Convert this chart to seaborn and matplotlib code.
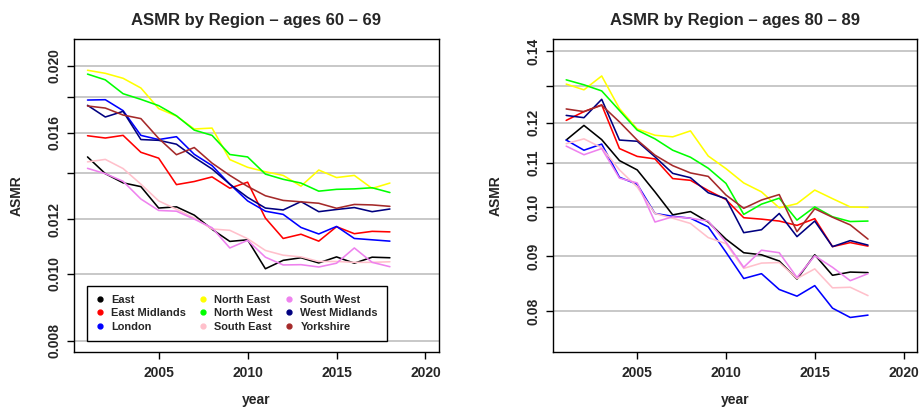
import numpy as np
import pandas as pd
import matplotlib
matplotlib.use("Agg")
import matplotlib.pyplot as plt
from matplotlib.lines import Line2D
from matplotlib.ticker import FixedLocator, FixedFormatter, NullLocator
import seaborn as sns

years = [2001, 2002, 2003, 2004, 2005, 2006, 2007, 2008, 2009,
         2010, 2011, 2012, 2013, 2014, 2015, 2016, 2017, 2018]

regions = ["East", "East Midlands", "London", "North East", "North West",
           "South East", "South West", "West Midlands", "Yorkshire"]
colors = ["black", "red", "blue", "yellow", "#00FF00",
          "pink", "violet", "navy", "brown"]

# ages 60 - 69
asmr_60_east = [0.01476, 0.01396, 0.01354, 0.01337, 0.01245, 0.01250, 0.01216, 0.01160, 0.01114,
                0.01120, 0.01017, 0.01046, 0.01055, 0.01037, 0.01058, 0.01036, 0.01057, 0.01055]
asmr_60_emid = [0.01584, 0.01572, 0.01586, 0.01499, 0.01470, 0.01346, 0.01360, 0.01381, 0.01330,
                0.01357, 0.01204, 0.01125, 0.01141, 0.01115, 0.01170, 0.01143, 0.01152, 0.01150]
asmr_60_lond = [0.01784, 0.01786, 0.01722, 0.01586, 0.01564, 0.01579, 0.01489, 0.01434, 0.01348,
                0.01275, 0.01232, 0.01219, 0.01167, 0.01142, 0.01171, 0.01125, 0.01120, 0.01115]
asmr_60_ne = [0.01970, 0.01950, 0.01918, 0.01857, 0.01734, 0.01691, 0.01620, 0.01625, 0.01463,
              0.01426, 0.01405, 0.01388, 0.01339, 0.01413, 0.01378, 0.01388, 0.01329, 0.01353]
asmr_60_nw = [0.01945, 0.01908, 0.01822, 0.01788, 0.01751, 0.01693, 0.01614, 0.01586, 0.01488,
              0.01476, 0.01394, 0.01370, 0.01353, 0.01317, 0.01325, 0.01327, 0.01332, 0.01311]
asmr_60_se = [0.01452, 0.01464, 0.01420, 0.01348, 0.01275, 0.01240, 0.01204, 0.01161, 0.01156,
              0.01124, 0.01081, 0.01064, 0.01058, 0.01042, 0.01042, 0.01039, 0.01039, 0.01041]
asmr_60_sw = [0.01421, 0.01396, 0.01361, 0.01283, 0.01235, 0.01232, 0.01200, 0.01166, 0.01090,
              0.01118, 0.01057, 0.01030, 0.01031, 0.01023, 0.01036, 0.01090, 0.01039, 0.01024]
asmr_60_wmid = [0.01753, 0.01686, 0.01718, 0.01564, 0.01560, 0.01540, 0.01474, 0.01418, 0.01348,
                0.01290, 0.01245, 0.01237, 0.01272, 0.01230, 0.01239, 0.01247, 0.01230, 0.01241]
asmr_60_york = [0.01749, 0.01737, 0.01697, 0.01677, 0.01570, 0.01487, 0.01523, 0.01446, 0.01388,
                0.01338, 0.01297, 0.01277, 0.01271, 0.01265, 0.01244, 0.01260, 0.01258, 0.01252]

# ages 80 - 89
asmr_80_east = [0.1156, 0.1193, 0.1157, 0.1106, 0.1084, 0.1034, 0.0984, 0.0991, 0.0969,
                0.0934, 0.0907, 0.0903, 0.0891, 0.0857, 0.0903, 0.0864, 0.0870, 0.0869]
asmr_80_emid = [0.1206, 0.1229, 0.1247, 0.1135, 0.1116, 0.1110, 0.1064, 0.1060, 0.1037,
                0.1017, 0.0978, 0.0975, 0.0971, 0.0962, 0.0976, 0.0919, 0.0927, 0.0920]
asmr_80_lond = [0.1156, 0.1131, 0.1146, 0.1067, 0.1051, 0.0987, 0.0981, 0.0977, 0.0959,
                0.0908, 0.0858, 0.0867, 0.0838, 0.0826, 0.0845, 0.0805, 0.0789, 0.0793]
asmr_80_ne = [0.1304, 0.1288, 0.1327, 0.1237, 0.1184, 0.1168, 0.1164, 0.1179, 0.1117,
              0.1087, 0.1054, 0.1034, 0.0999, 0.1008, 0.1038, 0.1019, 0.1001, 0.1000]
asmr_80_nw = [0.1316, 0.1302, 0.1285, 0.1232, 0.1181, 0.1159, 0.1131, 0.1114, 0.1088,
              0.1053, 0.0985, 0.1007, 0.1020, 0.0973, 0.1001, 0.0980, 0.0970, 0.0971]
asmr_80_se = [0.1147, 0.1159, 0.1137, 0.1084, 0.1045, 0.0987, 0.0977, 0.0966, 0.0937,
              0.0925, 0.0877, 0.0887, 0.0888, 0.0858, 0.0876, 0.0841, 0.0842, 0.0827]
asmr_80_sw = [0.1141, 0.1120, 0.1135, 0.1065, 0.1054, 0.0969, 0.0980, 0.0977, 0.0971,
              0.0928, 0.0879, 0.0912, 0.0907, 0.0860, 0.0901, 0.0879, 0.0854, 0.0867]
asmr_80_wmid = [0.1219, 0.1213, 0.1262, 0.1156, 0.1153, 0.1115, 0.1076, 0.1066, 0.1032,
                0.1019, 0.0947, 0.0953, 0.0987, 0.0939, 0.0971, 0.0919, 0.0931, 0.0922]
asmr_80_york = [0.1236, 0.1229, 0.1246, 0.1202, 0.1156, 0.1119, 0.1094, 0.1077, 0.1069,
                0.1027, 0.0998, 0.1016, 0.1028, 0.0949, 0.0997, 0.0979, 0.0963, 0.0934]

series_60 = [asmr_60_east, asmr_60_emid, asmr_60_lond, asmr_60_ne, asmr_60_nw,
             asmr_60_se, asmr_60_sw, asmr_60_wmid, asmr_60_york]
series_80 = [asmr_80_east, asmr_80_emid, asmr_80_lond, asmr_80_ne, asmr_80_nw,
             asmr_80_se, asmr_80_sw, asmr_80_wmid, asmr_80_york]

yticks_60 = [0.008, 0.010, 0.012, 0.014, 0.016, 0.018, 0.020]
ylabels_60 = ["0.008", "0.010", "0.012", "", "0.016", "", "0.020"]
yticks_80 = [0.08, 0.09, 0.10, 0.11, 0.12, 0.13, 0.14]
ylabels_80 = ["0.08", "0.09", "0.10", "0.11", "0.12", "", "0.14"]
xticks = [2005, 2010, 2015, 2020]


def long_df(series):
    rows = []
    for reg, vals in zip(regions, series):
        for y, v in zip(years, vals):
            rows.append((y, v, reg))
    return pd.DataFrame(rows, columns=["year", "ASMR", "region"])


sns.set_style("white")
plt.rcParams["font.family"] = ["Liberation Sans", "DejaVu Sans"]
plt.rcParams["font.weight"] = "bold"

fig = plt.figure(figsize=(9.2, 4.08), dpi=100)
ax1 = fig.add_axes([74 / 920, 1 - 352.3 / 408, 365 / 920, 313 / 408])
ax2 = fig.add_axes([552.7 / 920, 1 - 352.3 / 408, 364.3 / 920, 313 / 408])

palette = dict(zip(regions, colors))

panels = [
    (ax1, series_60, "ASMR by Region \u2013 ages 60 \u2013 69", yticks_60, ylabels_60, (0.00770, 0.02184)),
    (ax2, series_80, "ASMR by Region \u2013 ages 80 \u2013 89", yticks_80, ylabels_80, (0.0732, 0.1436)),
]

for ax, series, title, yt, yl, ylim in panels:
    df = long_df(series)
    ax.set_yscale("log")
    sns.lineplot(data=df, x="year", y="ASMR", hue="region", hue_order=regions,
                 palette=palette, linewidth=1.15, legend=False, ax=ax,
                 estimator=None, sort=False)
    ax.set_xlim(2000.24, 2020.76)
    ax.set_ylim(*ylim)
    ax.yaxis.set_major_locator(FixedLocator(yt))
    ax.yaxis.set_major_formatter(FixedFormatter(yl))
    ax.yaxis.set_minor_locator(NullLocator())
    ax.set_xticks(xticks)
    ax.set_xticklabels([str(x) for x in xticks])
    ax.grid(axis="y", color="#C4C4C4", linewidth=1.3)
    ax.grid(axis="x", visible=False)
    ax.set_axisbelow(True)
    for sp in ax.spines.values():
        sp.set_visible(True)
        sp.set_color("black")
        sp.set_linewidth(1.0)
    ax.tick_params(axis="both", direction="out", length=5, width=1.0,
                   labelsize=10, color="black", left=True, bottom=True)
    ax.tick_params(axis="x", pad=5)
    ax.tick_params(axis="y", pad=4)
    for lbl in ax.get_yticklabels():
        lbl.set_rotation(90)
        lbl.set_va("center")
        lbl.set_fontweight("bold")
    for lbl in ax.get_xticklabels():
        lbl.set_fontweight("bold")
    ax.set_title(title, fontsize=12, fontweight="bold", pad=10)
    ax.set_xlabel("year", fontsize=10, fontweight="bold", labelpad=9)
    ax.set_ylabel("ASMR", fontsize=10, fontweight="bold", labelpad=17)

handles = [Line2D([], [], linestyle="none", marker="o", markersize=3.5,
                  color=c) for c in colors]
leg_h = 0.01
leg = ax1.legend(handles, regions, ncol=3, loc="upper left",
                 bbox_to_anchor=(87.3 / 920, 1 - 286 / 408 - leg_h, 299.4 / 920, leg_h),
                 bbox_transform=fig.transFigure, mode="expand",
                 prop={"size": 7.9, "weight": "bold"}, frameon=True,
                 fancybox=False, edgecolor="black", framealpha=1,
                 borderpad=0.8, labelspacing=0.32, handlelength=0.8,
                 handletextpad=0.6, columnspacing=1.0, borderaxespad=0)
leg.get_frame().set_linewidth(1.0)

fig.savefig("out.png", dpi=100)
